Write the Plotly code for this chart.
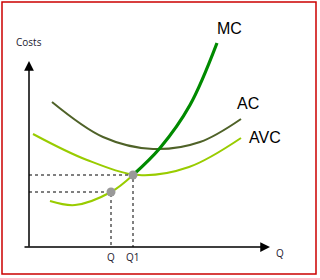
import plotly.graph_objects as go

# Data (quantity, cost) in chart units; origin at axes crossing
ac_q = [23, 74, 124, 171, 212]
ac_c = [145, 110, 98, 105, 128]

avc_q = [4, 58, 110, 160, 212]
avc_c = [113, 87, 72, 80, 109]

mc_low_q = [21, 46, 82, 104]
mc_low_c = [46, 42, 55, 72]
mc_up_q = [104, 131, 161, 188]
mc_up_c = [72, 99, 142, 204]

pt_labels = ["Q", "Q1"]
pt_q = [82, 104]
pt_c = [55, 72]

curve_labels = ["MC", "AC", "AVC"]
curve_label_q = [200, 219, 236]
curve_label_c = [219, 144, 110]

fig = go.Figure()

def curve(x, y, color, w):
    fig.add_trace(go.Scatter(x=x, y=y, mode="lines",
                             line=dict(color=color, width=w, shape="spline", smoothing=1.0),
                             hoverinfo="skip", showlegend=False))

curve(ac_q, ac_c, "#4f6228", 2)
curve(avc_q, avc_c, "#99cc00", 2)
curve(mc_low_q, mc_low_c, "#99cc00", 2)
curve(mc_up_q, mc_up_c, "#008a00", 3.2)

# dotted guides
for q, c in zip(pt_q, pt_c):
    fig.add_trace(go.Scatter(x=[0, q, q], y=[c, c, 0], mode="lines",
                             line=dict(color="black", width=1, dash="dot"),
                             hoverinfo="skip", showlegend=False))

fig.add_trace(go.Scatter(x=pt_q, y=pt_c, mode="markers",
                         marker=dict(color="#999999", size=9), showlegend=False))

ann = []
# axes with arrows
ann.append(dict(x=0, y=186, ax=0, ay=-1, xref="x", yref="y", axref="x", ayref="y",
                showarrow=True, arrowhead=2, arrowsize=1.3, arrowwidth=1.5, arrowcolor="black", text=""))
ann.append(dict(x=241, y=0, ax=-6, ay=0, xref="x", yref="y", axref="x", ayref="y",
                showarrow=True, arrowhead=2, arrowsize=1.3, arrowwidth=1.5, arrowcolor="black", text=""))
ann.append(dict(x=0, y=205, text="Costs", showarrow=False,
                font=dict(family="Open Sans", size=10, color="#1a1a2e")))
ann.append(dict(x=251, y=-6, text="Q", showarrow=False,
                font=dict(family="Open Sans", size=10, color="#1a1a2e")))
for lab, q in zip(pt_labels, pt_q):
    ann.append(dict(x=q, y=-10, text=lab, showarrow=False,
                    font=dict(family="Open Sans", size=10, color="#1a1a2e")))
for lab, q, c in zip(curve_labels, curve_label_q, curve_label_c):
    ann.append(dict(x=q, y=c, text=lab, showarrow=False,
                    font=dict(family="Liberation Sans", size=16, color="black")))

fig.update_layout(
    width=320, height=278, margin=dict(l=0, r=0, t=0, b=0),
    paper_bgcolor="white", plot_bgcolor="white",
    xaxis=dict(range=[-29, 291], visible=False, fixedrange=True),
    yaxis=dict(range=[-31, 247], visible=False, fixedrange=True),
    annotations=ann,
    shapes=[dict(type="rect", xref="paper", yref="paper",
                 x0=2/320, x1=316/320, y0=1-274/278, y1=1-2/278,
                 line=dict(color="#cc0000", width=1.5))],
)

fig.write_html("out.html")
